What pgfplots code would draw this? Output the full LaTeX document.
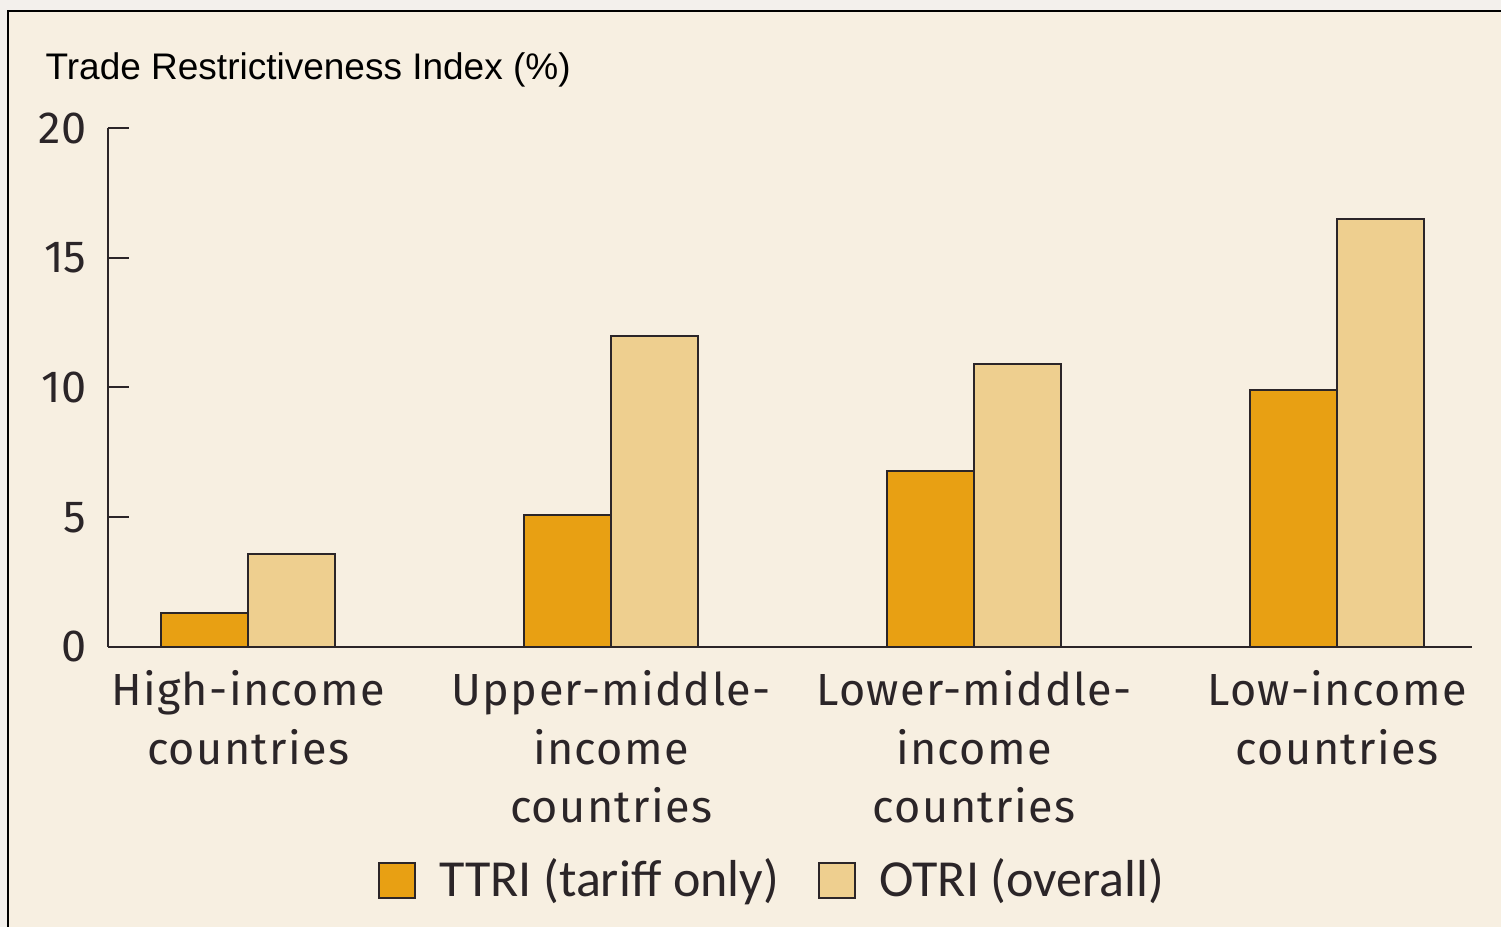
\documentclass[border=0pt]{standalone}
\usepackage{pgfplots}
\pgfplotsset{compat=1.18}
\usepackage{fontspec}
\setmainfont{Fira Sans}
\newfontfamily\titlefont{Liberation Sans}
\newfontfamily\labfont[LetterSpace=3]{Fira Sans}
\newfontfamily\legfont{Carlito}
\definecolor{ttri}{HTML}{E8A013}
\definecolor{otri}{HTML}{EECF8F}
\definecolor{bg}{HTML}{F7EFE1}
\definecolor{outer}{HTML}{F3F0EC}
\definecolor{ink}{HTML}{2B2528}
\begin{document}
\begin{tikzpicture}
\useasboundingbox (0,0) rectangle (450.3pt,278.1pt);
\fill[outer] (0,0) rectangle (450.3pt,278.1pt);
\fill[bg] (2.4pt,0) rectangle (450.3pt,274.8pt);
\draw[black, line width=0.8pt] (2.4pt,0) -- (2.4pt,274.8pt) -- (450.3pt,274.8pt);
\node[anchor=base west, inner sep=0pt, font=\titlefont\fontsize{11.1}{13}\selectfont] at (13.5pt,254.1pt) {Trade Restrictiveness Index (\%)};
\begin{axis}[
  at={(32.4pt,84pt)}, anchor=south west,
  scale only axis, width=409.2pt, height=155.7pt,
  xmin=-0.386, xmax=3.372, ymin=0, ymax=20,
  axis x line*=bottom, axis y line*=left,
  axis line style={ink, line width=0.6pt, -},
  ytick={0,5,10,15,20},
  ytick style={ink, line width=0.6pt},
  tick align=inside, major tick length=6.3pt,
  yticklabel style={anchor=east, inner sep=0pt, xshift=-6.3pt, font=\fontsize{13.5}{15}\selectfont, text=ink},
  /pgf/number format/assume math mode=true,
  xtick={0,1,2,3},
  xtick style={draw=none},
  xticklabels={High-income\\countries, Upper-middle-\\income\\countries, Lower-middle-\\income\\countries, Low-income\\countries},
  xticklabel style={anchor=north, align=center, inner sep=0pt, yshift=-0.6pt, font=\labfont\fontsize{13.5}{17.55}\selectfont, text=ink},
  ybar=0pt, bar width=26.1pt,
  legend columns=2,
  legend style={at={(axis description cs:0.198,-0.449)}, anchor=west, draw=none, fill=none, inner sep=0pt, outer sep=0pt,
    font=\legfont\fontsize{15.6}{17}\selectfont, text=ink,
    nodes={inner sep=0pt},
    /tikz/every odd column/.append style={column sep=6.9pt},
    /tikz/every even column/.append style={column sep=11.8pt}},
  legend image code/.code={\draw[#1, line width=0.6pt] (0pt,-5.25pt) rectangle (10.8pt,5.25pt);},
]
\addplot[fill=ttri, draw=ink, line width=0.6pt] coordinates {(0,1.3) (1,5.1) (2,6.8) (3,9.9)};
\addplot[fill=otri, draw=ink, line width=0.6pt] coordinates {(0,3.6) (1,12.0) (2,10.9) (3,16.5)};
\legend{TTRI (tariff only), OTRI (overall)}
\end{axis}
\end{tikzpicture}
\end{document}
